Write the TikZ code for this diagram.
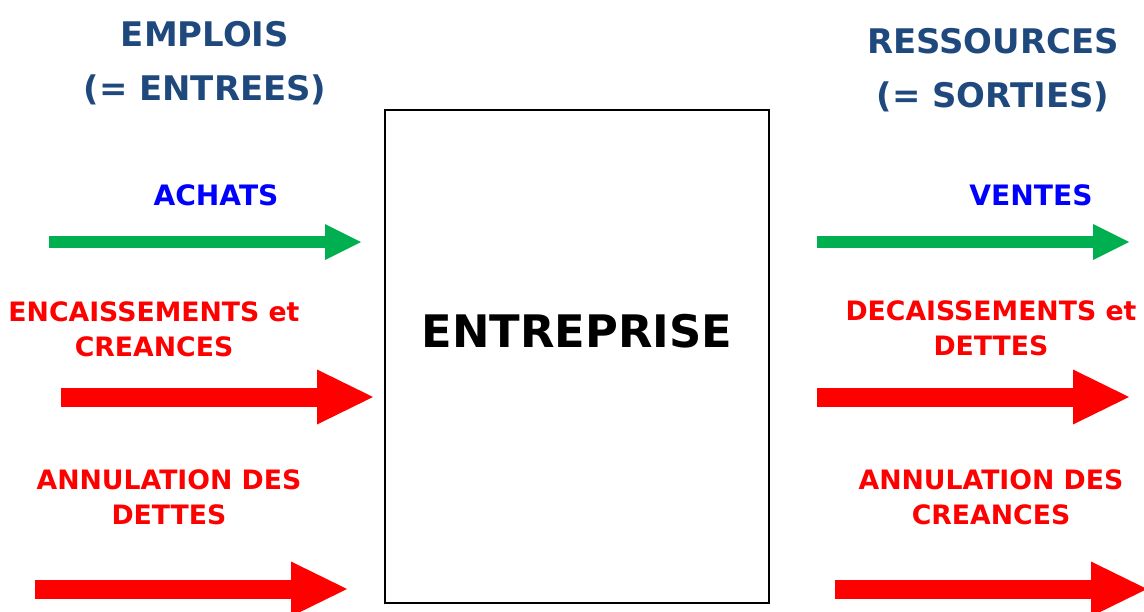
\documentclass[tikz,border=0pt]{standalone}
\usepackage{fontspec}
\setmainfont{DejaVu Sans}
\usetikzlibrary{arrows.meta}

\definecolor{titleblue}{HTML}{1F497D}
\definecolor{flowblue}{HTML}{0000FF}
\definecolor{flowgreen}{HTML}{00B050}
\definecolor{flowred}{HTML}{FF0000}

\begin{document}
\begin{tikzpicture}[x=0.02cm, y=-0.02cm,
  heading/.style={text=titleblue, align=center, anchor=base,
    font=\bfseries\fontsize{19.3}{30.4}\selectfont},
  bluelbl/.style={text=flowblue, anchor=base,
    font=\bfseries\fontsize{16}{20}\selectfont},
  redlbl/.style={text=flowred, align=center, anchor=base,
    font=\bfseries\fontsize{15.2}{19.9}\selectfont},
  thinflow/.style={draw=flowgreen, line width=0.24cm,
    -{Triangle[length=0.72cm, width=0.72cm, line width=0pt]}},
  thickflow/.style={draw=flowred, line width=0.38cm,
    -{Triangle[length=1.12cm, width=1.1cm, line width=0pt]}}]
  \useasboundingbox (0,0) rectangle (1144,612);

  % the firm in the middle
  \node[draw, line width=0.035cm, minimum width=7.68cm, minimum height=9.86cm]
    (firm) at (577,356.5) {};
  \node[anchor=base, font=\bfseries\fontsize{25.5}{30}\selectfont]
    (firmname) at (577,347) {ENTREPRISE};

  % left side
  \node[heading] (emplois) at (205,100) {EMPLOIS\\(= ENTREES)};
  \node[bluelbl] (achats) at (216,205) {ACHATS};
  \node[redlbl] (encaiss) at (154,356) {ENCAISSEMENTS et\\CREANCES};
  \node[redlbl] (annuldet) at (169,524) {ANNULATION DES\\DETTES};

  \coordinate (achatsA) at (49,242);
  \coordinate (achatsB) at (361,242);
  \coordinate (encaissA) at (61,397);
  \coordinate (encaissB) at (373,397);
  \coordinate (annuldetA) at (35,589);
  \coordinate (annuldetB) at (347,589);

  \draw[thinflow] (achatsA) -- (achatsB);
  \draw[thickflow] (encaissA) -- (encaissB);
  \draw[thickflow] (annuldetA) -- (annuldetB);

  % right side
  \node[heading] (ressources) at (993,107) {RESSOURCES\\(= SORTIES)};
  \node[bluelbl] (ventes) at (1031,205) {VENTES};
  \node[redlbl] (decaiss) at (991,355) {DECAISSEMENTS et\\DETTES};
  \node[redlbl] (annulcre) at (991,524) {ANNULATION DES\\CREANCES};

  \coordinate (ventesA) at (817,242);
  \coordinate (ventesB) at (1129,242);
  \coordinate (decaissA) at (817,397);
  \coordinate (decaissB) at (1129,397);
  \coordinate (annulcreA) at (835,589);
  \coordinate (annulcreB) at (1147,589);

  \draw[thinflow] (ventesA) -- (ventesB);
  \draw[thickflow] (decaissA) -- (decaissB);
  \draw[thickflow] (annulcreA) -- (annulcreB);
\end{tikzpicture}
\end{document}
